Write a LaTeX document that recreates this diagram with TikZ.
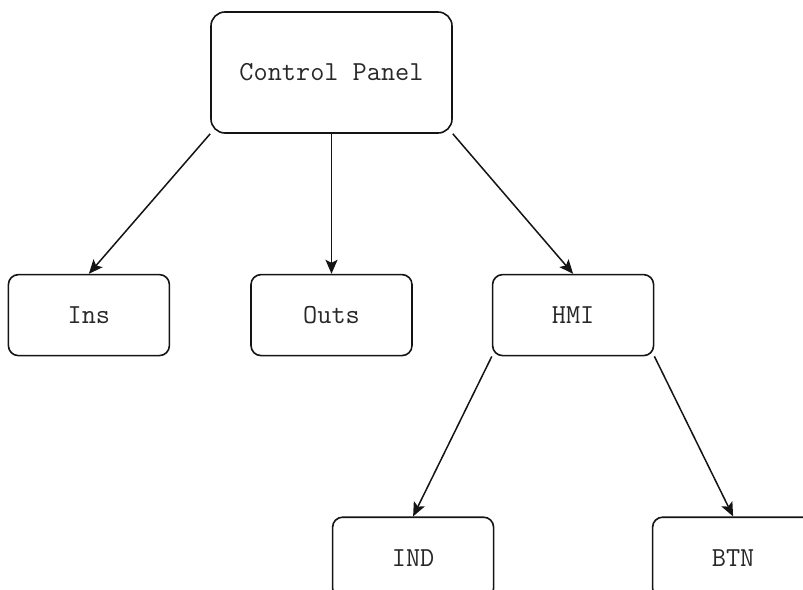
\documentclass[tikz,border=0pt]{standalone}
\usepackage{xcolor}
\usepackage{tikz}
\usetikzlibrary{arrows.meta,positioning}
\definecolor{linecol}{RGB}{20,20,20}
\definecolor{textcol}{RGB}{40,40,40}

\begin{document}
\begin{tikzpicture}[
  x=1pt, y=-1pt, font=\ttfamily\fontsize{27.5}{31}\selectfont,
  unit/.style={draw=linecol, text=textcol, line width=1.6pt, rounded corners=10pt,
               fill=white, minimum width=161pt, minimum height=81pt, inner sep=0pt},
  arr/.style={-{Stealth[length=14pt,width=12pt,inset=3pt]}, line width=1.5pt, linecol}
]
\clip (0,0) rectangle (803,589);
\fill[white] (0,0) rectangle (803,589);
\node[unit, minimum width=241pt, minimum height=121pt, rounded corners=14pt]
  (cp) at (331.5,72.5) {Control Panel};
\node[unit,below=140pt of cp] (outs) {Outs};
\node[unit,left=80pt of outs] (ins) {Ins};
\node[unit,right=79pt of outs] (hmi) {HMI};
\node[unit,below=160pt of hmi,xshift=-160pt] (ind) {IND};
\node[unit,below=160pt of hmi,xshift=160pt] (btn) {BTN};
\draw[arr] (cp.south west) -- (ins.north);
\draw[arr] (cp) -- (outs);
\draw[arr] (cp.south east) -- (hmi.north);
\draw[arr] (hmi.south west) -- (ind.north);
\draw[arr] (hmi.south east) -- (btn.north);
\end{tikzpicture}
\end{document}
